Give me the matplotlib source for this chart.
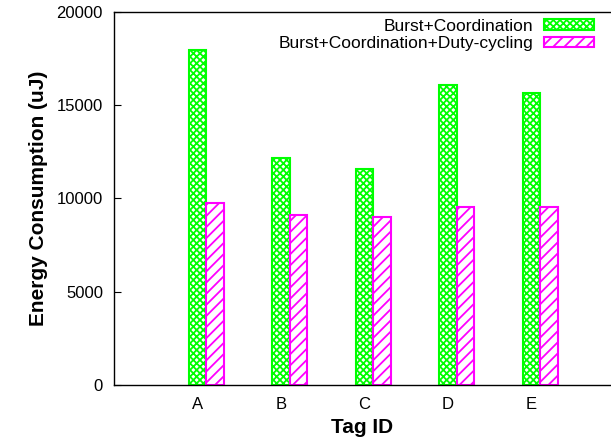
import numpy as np
import matplotlib
matplotlib.use("Agg")
import matplotlib.pyplot as plt

plt.rcParams["font.family"] = ["Liberation Sans", "DejaVu Sans"]
plt.rcParams["hatch.linewidth"] = 1.3

# energy per tag (uJ)
tags = ["A", "B", "C", "D", "E"]
burst_coord = [17950, 12150, 11570, 16100, 15670]
burst_coord_duty = [9770, 9110, 9020, 9520, 9530]

GREEN = "#00ff00"
MAGENTA = "#ff00ff"

fig = plt.figure(figsize=(6.11, 4.42), dpi=100)
ax = fig.add_axes([0.1866, 0.129, 0.8134, 0.8439])

x = np.arange(1, len(tags) + 1)
w = 0.21
ax.bar(x, burst_coord, w, facecolor="white", edgecolor=GREEN,
       hatch="xxxxx", linewidth=1.5, label="Burst+Coordination")
ax.bar(x + w, burst_coord_duty, w, facecolor="white", edgecolor=MAGENTA,
       hatch="///", linewidth=1.5, label="Burst+Coordination+Duty-cycling")

ax.set_xlim(0, 5.95)
ax.set_ylim(0, 20000)
ax.set_xticks(x)
ax.set_xticklabels(tags)
ax.set_yticks(np.arange(0, 20001, 5000))
ax.tick_params(axis="y", direction="in", length=5, labelsize=12, pad=8)
ax.tick_params(axis="x", length=0, labelsize=12, pad=9)
ax.spines["right"].set_visible(False)
for sp in ("left", "top", "bottom"):
    ax.spines[sp].set_linewidth(1.0)

ax.set_xlabel("Tag ID", fontsize=15, fontweight="bold", labelpad=4)
ax.set_ylabel("Energy Consumption (uJ)", fontsize=15, fontweight="bold", labelpad=6)

ax.legend(loc="upper right", frameon=False, markerfirst=False, fontsize=12.5,
          handlelength=2.9, handleheight=0.55, labelspacing=0.15,
          borderaxespad=0.3, handletextpad=0.6, bbox_to_anchor=(0.99, 1.015))

fig.savefig("out.png", dpi=100)
